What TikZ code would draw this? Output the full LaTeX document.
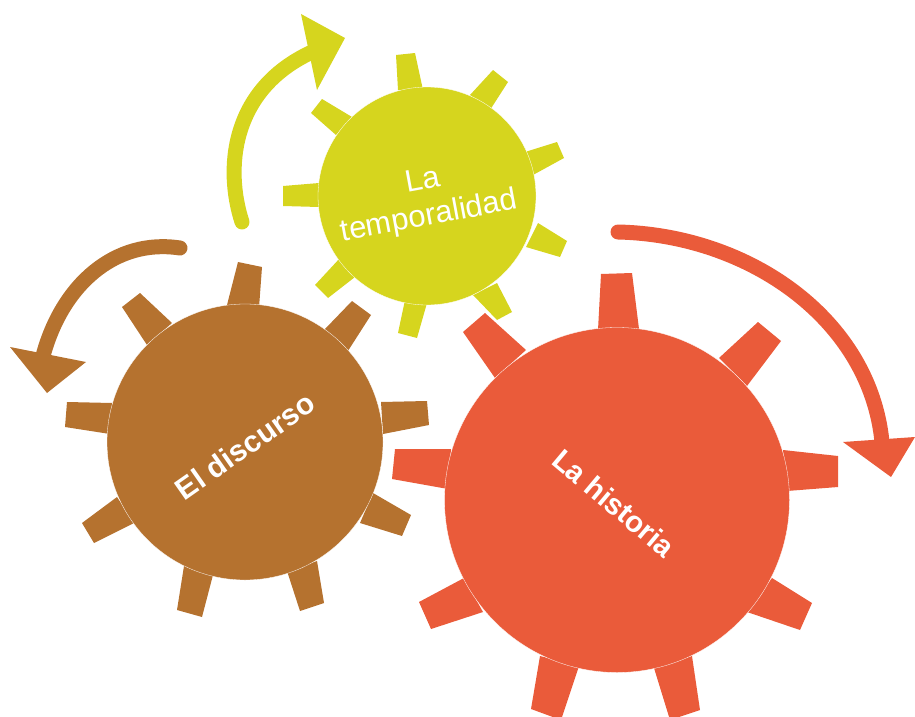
\documentclass[tikz,border=0pt]{standalone}
\usepackage{fontspec}
\setmainfont{Liberation Sans}
\definecolor{cyel}{HTML}{D6D51E}
\definecolor{cbro}{HTML}{B5722F}
\definecolor{cred}{HTML}{EA5B3A}
\tikzset{
  shaft/.style={line width=15pt,line cap=round,line join=round},
  hub/.style={circle,draw=white,line width=0.3pt,inner sep=0pt,minimum size=#1},
  label/.style={text=white,inner sep=0pt,align=center},
}
\begin{document}
\begin{tikzpicture}[x=1pt,y=-1pt]
\useasboundingbox (0,0) rectangle (915,717);
\clip (0,0) rectangle (915,717);
% yellow gear
\fill[cyel] (396,55)--(415,53)--(423,90)--(398,90)--cycle;
\fill[cyel] (493,70)--(508,82)--(490,110)--(470,95)--cycle;
\fill[cyel] (557,142)--(564,158)--(533,175)--(525,152)--cycle;
\fill[cyel] (538,223)--(567,241)--(560,257)--(526,247)--cycle;
\fill[cyel] (497,283)--(512,312)--(497,320)--(473,295)--cycle;
\fill[cyel] (427,303)--(417,338)--(398,333)--(405,300)--cycle;
\fill[cyel] (340,258)--(355,277)--(328,298)--(315,285)--cycle;
\fill[cyel] (319,183)--(319,207)--(283,206)--(283,186)--cycle;
\fill[cyel] (322,99)--(352,117)--(336,135)--(311,113)--cycle;
\node[hub=218pt,fill=cyel] (gy) at (427,196) {};
\coordinate (ys) at (242,222); \coordinate (ye) at (312,52);
\draw[shaft,cyel] (ys) .. controls (225,170) and (230,90) .. (ye);
\coordinate (ya) at (301,14); \coordinate (yb) at (345,38); \coordinate (yc) at (317,90);
\fill[cyel] (ya)--(yb)--(yc)--cycle;
\node[label,rotate=10.5,font=\fontsize{31}{36}\selectfont] (ty) at (426,200) {La\\temporalidad};
% brown gear
\fill[cbro] (238,262)--(262,267)--(259,308)--(227,305)--cycle;
\fill[cbro] (352,301)--(371,315)--(346,354)--(325,329)--cycle;
\fill[cbro] (381,402)--(427,401)--(429,425)--(383,434)--cycle;
\fill[cbro] (373,493)--(411,515)--(402,536)--(360,523)--cycle;
\fill[cbro] (317,561)--(324,603)--(300,611)--(287,571)--cycle;
\fill[cbro] (184,566)--(213,575)--(202,617)--(177,610)--cycle;
\fill[cbro] (117,497)--(134,523)--(94,543)--(82,523)--cycle;
\fill[cbro] (112,403)--(110,434)--(65,427)--(67,402)--cycle;
\fill[cbro] (140,293)--(172,323)--(147,345)--(122,307)--cycle;
\node[hub=276pt,fill=cbro] (gb) at (245,442) {};
\coordinate (bs) at (180,248); \coordinate (be) at (43,356);
\draw[shaft,cbro] (bs) .. controls (115,238) and (62,285) .. (be);
\coordinate (ba) at (10,347); \coordinate (bb) at (86,362); \coordinate (bc) at (47,393);
\fill[cbro] (ba)--(bb)--(bc)--cycle;
\node[label,rotate=35,font=\fontsize{30}{36}\selectfont\bfseries] (tb) at (245,446) {El discurso};
% red gear
\fill[cred] (601,274)--(632,273)--(639,329)--(598,330)--cycle;
\fill[cred] (758,322)--(781,341)--(747,386)--(719,358)--cycle;
\fill[cred] (783,450)--(838,456)--(838,487)--(787,491)--cycle;
\fill[cred] (772,578)--(812,603)--(800,630)--(747,612)--cycle;
\fill[cred] (692,656)--(700,710)--(670,720)--(654,668)--cycle;
\fill[cred] (540,656)--(579,666)--(561,720)--(531,709)--cycle;
\fill[cred] (464,578)--(483,612)--(431,629)--(419,602)--cycle;
\fill[cred] (451,449)--(448,489)--(392,479)--(395,449)--cycle;
\fill[cred] (485,313)--(526,350)--(495,378)--(463,332)--cycle;
\node[hub=345pt,fill=cred] (gr) at (617,500) {};
\coordinate (rs) at (618,232); \coordinate (re) at (882,442);
\draw[shaft,cred] (rs) .. controls (750,235) and (870,320) .. (re);
\coordinate (ra) at (843,442); \coordinate (rb) at (915,437); \coordinate (rc) at (891,477);
\fill[cred] (ra)--(rb)--(rc)--cycle;
\node[label,rotate=-40,font=\fontsize{29.5}{36}\selectfont\bfseries] (tr) at (614,503) {La historia};
\end{tikzpicture}
\end{document}
